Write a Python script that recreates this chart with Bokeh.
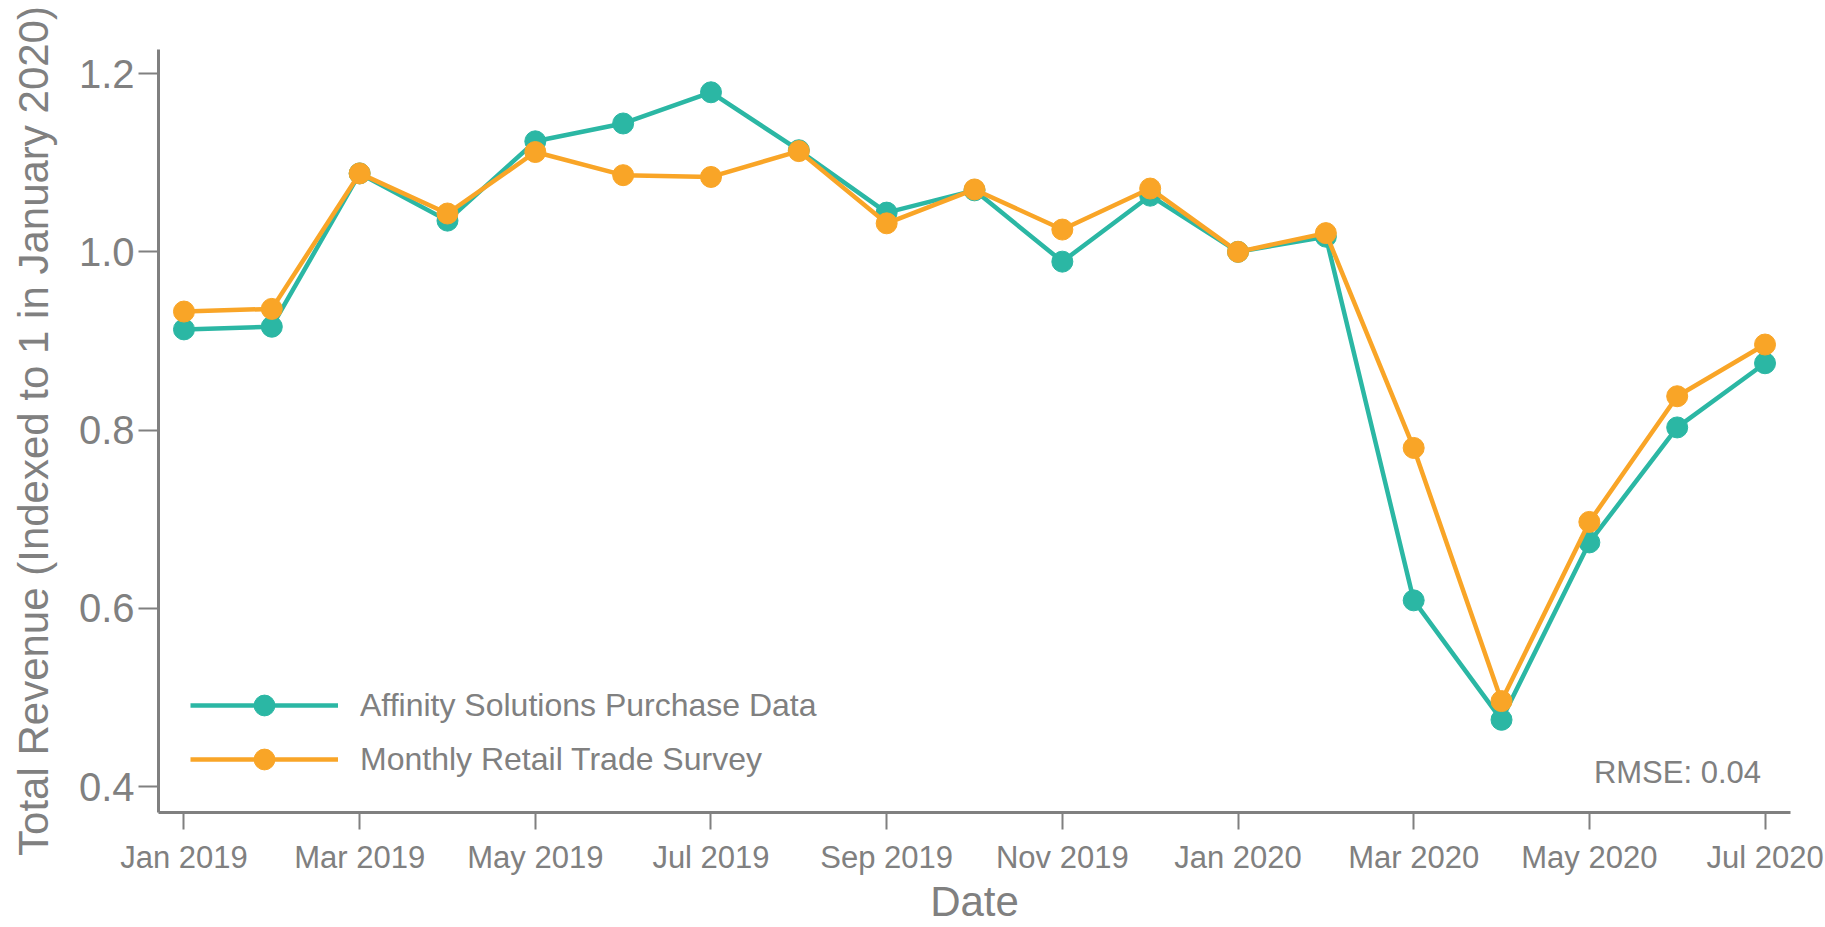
from bokeh.plotting import figure
from bokeh.models import Range1d, FixedTicker, Legend, LegendItem, Label
from bokeh.embed import file_html
from bokeh.resources import INLINE

months = ["Jan 2019", "Feb 2019", "Mar 2019", "Apr 2019", "May 2019", "Jun 2019",
          "Jul 2019", "Aug 2019", "Sep 2019", "Oct 2019", "Nov 2019", "Dec 2019",
          "Jan 2020", "Feb 2020", "Mar 2020", "Apr 2020", "May 2020", "Jun 2020",
          "Jul 2020"]
affinity = [0.913, 0.916, 1.088, 1.035, 1.124, 1.144, 1.179, 1.114, 1.044, 1.069,
            0.989, 1.063, 1.000, 1.017, 0.609, 0.475, 0.674, 0.803, 0.875]
mrts = [0.933, 0.936, 1.088, 1.043, 1.112, 1.086, 1.084, 1.113, 1.032, 1.070,
        1.025, 1.071, 1.000, 1.021, 0.780, 0.496, 0.697, 0.838, 0.896]
series_names = ["Affinity Solutions Purchase Data", "Monthly Retail Trade Survey"]
y_ticks = [0.4, 0.6, 0.8, 1.0, 1.2]
rmse_text = "RMSE: 0.04"

TEAL = "#2bb7a4"
ORANGE = "#f9a527"
GREY = "#808080"
FONT = "Liberation Sans"

x_idx = list(range(len(months)))

p = figure(width=1825, height=927, output_backend="svg", toolbar_location=None,
           x_range=Range1d(-0.29, len(months) - 1 + 0.29),
           y_range=Range1d(0.371, 1.227),
           min_border_left=158, min_border_right=35, min_border_top=49,
           min_border_bottom=112)
p.xgrid.visible = False
p.ygrid.visible = False
p.outline_line_color = None
p.background_fill_color = "white"
p.border_fill_color = "white"

for ax in (p.xaxis[0], p.yaxis[0]):
    ax.axis_line_color = GREY
    ax.axis_line_width = 3
    ax.major_tick_line_color = GREY
    ax.major_tick_line_width = 2
    ax.major_tick_in = 0
    ax.minor_tick_line_color = None
    ax.major_label_text_color = GREY
    ax.major_label_text_font = FONT
    ax.axis_label_text_color = GREY
    ax.axis_label_text_font = FONT
    ax.axis_label_text_font_style = "normal"

p.xaxis.ticker = FixedTicker(ticks=x_idx[::2])
p.xaxis.major_label_overrides = {i: months[i] for i in x_idx[::2]}
p.xaxis.major_label_text_font_size = "31px"
p.xaxis.major_tick_out = 17
p.xaxis.major_label_standoff = 10
p.xaxis.axis_label = "Date"
p.xaxis.axis_label_text_font_size = "42px"
p.xaxis.axis_label_standoff = 0

p.yaxis.ticker = FixedTicker(ticks=y_ticks)
p.yaxis.major_label_overrides = {t: f"{t:.1f}" for t in y_ticks}
p.yaxis.major_label_text_font_size = "40px"
p.yaxis.major_tick_out = 20
p.yaxis.major_label_standoff = 4
p.yaxis.axis_label = "Total Revenue (Indexed to 1 in January 2020)"
p.yaxis.axis_label_text_font_size = "42px"
p.yaxis.axis_label_standoff = 19

items = []
for name, vals, col in zip(series_names, [affinity, mrts], [TEAL, ORANGE]):
    lr = p.line(x_idx, vals, line_color=col, line_width=4.5)
    sr = p.scatter(x_idx, vals, size=21, fill_color=col, line_color=col)
    items.append(LegendItem(label=name, renderers=[lr, sr]))

legend = Legend(items=items, location=(32, 27), glyph_width=148, glyph_height=52,
                label_standoff=22, spacing=2, padding=0, margin=0,
                border_line_color=None, background_fill_alpha=0,
                label_text_font_size="32px", label_text_color=GREY,
                label_text_font=FONT, label_height=52)
p.add_layout(legend)

p.add_layout(Label(x=len(months) - 1, y=0.4195, x_offset=-4, y_offset=-3, text=rmse_text,
                   text_align="right", text_baseline="middle", text_font_size="31px",
                   text_color=GREY, text_font=FONT))

open("out.html", "w").write(file_html(p, INLINE))
